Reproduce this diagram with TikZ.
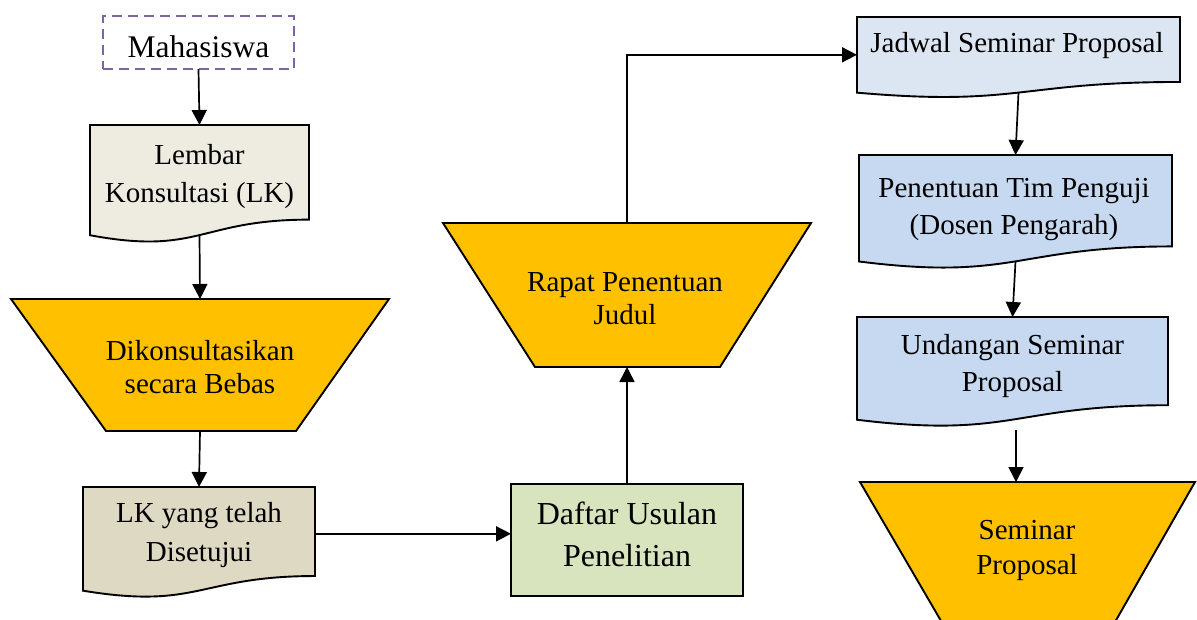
\documentclass[tikz,border=0pt]{standalone}
\usepackage{fontspec}
\setmainfont{Liberation Serif}
\usetikzlibrary{arrows.meta,calc}
\definecolor{mhsborder}{HTML}{8064A2}
\definecolor{lkfill}{HTML}{EEECE1}
\definecolor{lkokfill}{HTML}{DDD9C3}
\definecolor{gold}{HTML}{FFC000}
\definecolor{greenfill}{HTML}{D7E4BD}
\definecolor{paleblue}{HTML}{DCE6F2}
\definecolor{lightblue}{HTML}{C6D9F1}
\newcommand{\docpath}[5]{%
  \draw[outline,fill=#5] (#1,#2) -- (#3,#2) -- (#3,{#2+0.802*#4})
    .. controls ({(#1+#3)/2},{#2+0.802*#4}) and ({(#1+#3)/2},{#2+1.1075*#4}) ..
    (#1,{#2+0.934*#4}) -- cycle;}
\begin{document}
\begin{tikzpicture}[x=1pt,y=-1pt,
  outline/.style={draw=black,line width=1.9pt,line join=miter},
  arr/.style={draw=black,line width=1.7pt,-{Triangle[width=15pt,length=15pt]}},
  anchorbox/.style={draw=none,inner sep=0pt,outer sep=0pt,anchor=north west},
  lbl/.style={inner sep=0pt,align=center,text=black},
]
\useasboundingbox (0,0) rectangle (1197,619);

% ---- shapes ----
\node[draw=mhsborder,line width=2.6pt,dash pattern=on 10pt off 6pt,
      minimum width=191pt,minimum height=53pt,inner sep=0pt,outer sep=0pt,
      anchor=north west,font=\fontsize{31.5}{36}\selectfont,
      text height=29pt,text depth=0pt] (mhs) at (103,16) {Mahasiswa};

\docpath{90}{125}{309}{118}{lkfill}
\node[anchorbox,minimum width=219pt,minimum height=110.1pt] (lk) at (90,125) {};

\draw[outline,fill=gold] (11,299) -- (389,299) -- (296,431) -- (106,431) -- cycle;
\node[anchorbox,minimum width=378pt,minimum height=132pt] (t1) at (11,299) {};

\docpath{83}{487}{315}{111}{lkokfill}
\node[anchorbox,minimum width=232pt,minimum height=103.6pt] (lk2) at (83,487) {};

\node[outline,fill=greenfill,minimum width=232pt,minimum height=112pt,
      inner sep=0pt,outer sep=0pt,anchor=north west] (dup) at (511,484) {};

\draw[outline,fill=gold] (443,223) -- (811,223) -- (720,367) -- (535,367) -- cycle;
\node[anchorbox,minimum width=368pt,minimum height=144pt] (t2) at (443,223) {};

\docpath{857}{17}{1180}{81}{paleblue}
\node[anchorbox,minimum width=323pt,minimum height=75.6pt] (jad) at (857,17) {};

\docpath{859}{155}{1172}{114}{lightblue}
\node[anchorbox,minimum width=313pt,minimum height=106.4pt] (ptp) at (859,155) {};

\docpath{857}{317}{1168}{110}{lightblue}
\node[anchorbox,minimum width=311pt,minimum height=102.6pt] (und) at (857,317) {};

\begin{scope}
\clip (0,0) rectangle (1197,619);
\draw[outline,fill=gold] (860,482) -- (1195,482) -- (1099,650) -- (958,650) -- cycle;
\end{scope}
\node[anchorbox,minimum width=335pt,minimum height=137pt] (t3) at (860,482) {};

% ---- connectors ----
\draw[arr] (mhs.south) -- (lk.north);
\draw[arr] (lk.south) -- (t1.north);
\draw[arr] (t1.south) -- (lk2.north);
\draw[arr] ([yshift=5pt]lk2.east) -- ([yshift=5pt]lk2.east -| dup.west);
\draw[arr] (dup.north) -- (t2.south);
\draw[arr] (t2.north) |- (jad.west);
\draw[arr] (jad.south) -- (ptp.north);
\draw[arr] (ptp.south) -- (und.north);
\draw[arr] ([xshift=3.5pt,yshift=-10pt]und.south) -- ([xshift=3.5pt]und.south |- t3.north);

% ---- texts ----
\node[lbl,font=\fontsize{29}{38}\selectfont] (lkt) at (199.5,177) {Lembar\\Konsultasi (LK)};
\node[lbl,font=\fontsize{29}{33}\selectfont] (t1t) at (200,367.5) {Dikonsultasikan\\secara Bebas};
\node[lbl,font=\fontsize{29}{39}\selectfont] (lk2t) at (199,535.5) {LK yang telah\\Disetujui};
\node[lbl,font=\fontsize{32}{42}\selectfont] (dupt) at (627,534) {Daftar Usulan\\Penelitian};
\node[lbl,font=\fontsize{29}{33}\selectfont] (t2t) at (625,298.5) {Rapat Penentuan\\Judul};
\node[lbl,font=\fontsize{29}{34}\selectfont] (jadt) at (1017,46) {Jadwal Seminar Proposal};
\node[lbl,font=\fontsize{29}{37}\selectfont] (ptpt) at (1014,210) {Penentuan Tim Penguji\\(Dosen Pengarah)};
\node[lbl,font=\fontsize{29}{37}\selectfont] (undt) at (1012.5,366.5) {Undangan Seminar\\Proposal};
\node[lbl,font=\fontsize{29}{35}\selectfont] (t3t) at (1027,550.5) {Seminar\\Proposal};
\end{tikzpicture}
\end{document}
